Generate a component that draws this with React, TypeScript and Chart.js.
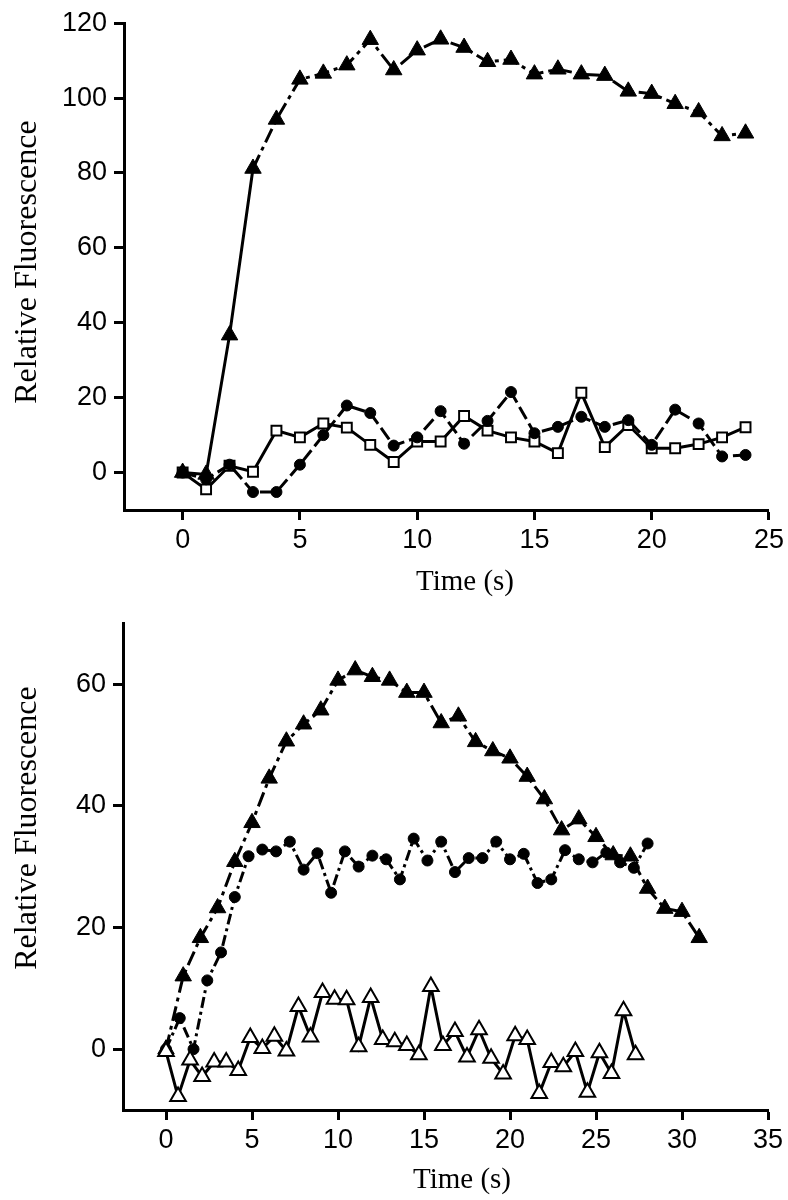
import React, { useEffect, useRef } from 'react';
import { Chart, registerables } from 'chart.js';

Chart.register(...registerables);

// ---------- Top panel data ----------
const topTime = [0, 1, 2, 3, 4, 5, 6, 7, 8, 9, 10, 11, 12, 13, 14, 15, 16, 17, 18, 19, 20, 21, 22, 23, 24];
const topFilledTriangle = [0, -0.5, 36.7, 81.2, 94.3, 105.0, 106.6, 108.8, 115.6, 107.5, 112.8, 115.7, 113.5, 109.7, 110.3, 106.4, 107.7, 106.4, 106.0, 101.8, 101.2, 98.5, 96.3, 89.9, 90.6];
const topCircle = [0, -1.8, 2.1, -5.2, -5.2, 2.1, 10.0, 17.9, 15.9, 7.2, 9.4, 16.4, 7.7, 13.8, 21.5, 10.5, 12.2, 14.9, 12.2, 14.0, 7.4, 16.8, 13.1, 4.3, 4.7];
const topSquare = [0, -4.5, 1.8, 0.2, 11.2, 9.4, 13.1, 12.0, 7.4, 2.8, 8.3, 8.3, 15.1, 11.2, 9.4, 8.3, 5.2, 21.3, 6.8, 12.7, 6.5, 6.5, 7.6, 9.4, 12.1];
const topXTicks = [0, 5, 10, 15, 20, 25];
const topYTicks = [0, 20, 40, 60, 80, 100, 120];

// ---------- Bottom panel data ----------
const bottomTriangleTime = [0, 1, 2, 3, 4, 5, 6, 7, 8, 9, 10, 11, 12, 13, 14, 15, 16, 17, 18, 19, 20, 21, 22, 23, 24, 25, 26, 27, 28, 29, 30, 31];
const bottomFilledTriangle = [0, 12.0, 18.3, 23.2, 30.8, 37.2, 44.5, 50.6, 53.4, 55.7, 60.6, 62.3, 61.2, 60.6, 58.6, 58.6, 53.6, 54.7, 50.5, 49.0, 47.8, 44.8, 41.1, 36.0, 37.8, 34.9, 31.9, 31.7, 26.4, 23.1, 22.6, 18.3];
const bottomCircleTime = [0, 0.8, 1.6, 2.4, 3.2, 4.0, 4.8, 5.6, 6.4, 7.2, 8.0, 8.8, 9.6, 10.4, 11.2, 12.0, 12.8, 13.6, 14.4, 15.2, 16.0, 16.8, 17.6, 18.4, 19.2, 20.0, 20.8, 21.6, 22.4, 23.2, 24.0, 24.8, 25.6, 26.4, 27.2, 28.0];
const bottomCircle = [0, 5.1, 0.0, 11.3, 15.9, 25.0, 31.7, 32.8, 32.5, 34.1, 29.5, 32.2, 25.7, 32.5, 30.0, 31.8, 31.2, 27.9, 34.6, 31.0, 34.1, 29.1, 31.4, 31.4, 34.1, 31.2, 32.1, 27.3, 27.9, 32.7, 31.2, 30.7, 32.3, 30.7, 29.8, 33.8];
const bottomOpenTime = [0, 0.7, 1.4, 2.1, 2.8, 3.5, 4.2, 4.9, 5.6, 6.3, 7.0, 7.7, 8.4, 9.1, 9.8, 10.5, 11.2, 11.9, 12.6, 13.3, 14.0, 14.7, 15.4, 16.1, 16.8, 17.5, 18.2, 18.9, 19.6, 20.3, 21.0, 21.7, 22.4, 23.1, 23.8, 24.5, 25.2, 25.9, 26.6, 27.3];
const bottomOpenTriangle = [-0.4, -7.8, -1.8, -4.5, -2.1, -2.1, -3.5, 1.9, 0.1, 2.1, -0.3, 7.0, 2.0, 9.3, 8.2, 8.1, 0.4, 8.5, 1.6, 1.2, 0.6, -0.9, 10.3, 0.6, 2.9, -1.3, 3.2, -1.5, -4.1, 2.2, 1.6, -7.3, -2.2, -2.9, -0.4, -7.1, -0.6, -4.0, 6.3, -0.9];
const bottomXTicks = [0, 5, 10, 15, 20, 25, 30, 35];
const bottomYTicks = [0, 20, 40, 60];

const yTitleText = 'Relative Fluorescence';
const xTitleText = 'Time (s)';

const TICK_FONT = '"Liberation Sans", Arial, Helvetica, sans-serif';
const TITLE_FONT = '"Liberation Serif", "Times New Roman", Times, serif';

const pts = (xs: number[], ys: number[]) => xs.map((x, i) => ({ x, y: ys[i] }));

const axisTitlePlugin = {
  id: 'axisTitles',
  afterDraw(chart: any, _args: any, opts: any) {
    const ctx = chart.ctx;
    const items = (opts && opts.items) || [];
    for (const t of items) {
      ctx.save();
      ctx.translate(t.x, t.y);
      ctx.rotate(t.rotation || 0);
      ctx.font = `${t.size}px ${TITLE_FONT}`;
      ctx.fillStyle = '#000';
      ctx.textAlign = 'center';
      ctx.textBaseline = 'middle';
      ctx.fillText(t.text, 0, 0);
      ctx.restore();
    }
  },
};

function axis(min: number, max: number, ticks: number[], isX: boolean, fitSize: number) {
  return {
    type: 'linear',
    min,
    max,
    afterBuildTicks: (s: any) => {
      s.ticks = ticks.map((v) => ({ value: v }));
    },
    afterFit: (s: any) => {
      if (isX) s.height = fitSize;
      else s.width = fitSize;
    },
    grid: {
      display: true,
      drawOnChartArea: false,
      drawTicks: true,
      tickLength: 10,
      tickWidth: 3,
      tickColor: '#000',
      color: '#000',
    },
    border: { display: true, color: '#000', width: 3 },
    ticks: {
      color: '#000',
      font: { family: TICK_FONT, size: 27 },
      padding: isX ? 4 : 7,
      maxRotation: 0,
      autoSkip: false,
    },
  };
}

function makeOptions(p: any) {
  return {
    responsive: false,
    animation: false,
    events: [],
    layout: { padding: { top: 17, right: p.padRight, bottom: 0, left: 0 } },
    plugins: {
      legend: { display: false },
      tooltip: { enabled: false },
      axisTitles: { items: p.titles },
    },
    scales: {
      x: axis(p.xMin, p.xMax, p.xTicks, true, 90),
      y: axis(p.yMin, p.yMax, p.yTicks, false, p.yWidth),
    },
  };
}

const lineBase = {
  showLine: true,
  borderColor: '#000',
  borderWidth: 3,
  tension: 0,
  pointBorderColor: '#000',
};

function topConfig(): any {
  return {
    type: 'scatter',
    data: {
      datasets: [
        {
          ...lineBase,
          data: pts(topTime, topFilledTriangle),
          pointStyle: 'triangle',
          pointRadius: 9.5,
          pointBackgroundColor: '#000',
          pointBorderWidth: 1,
          segment: {
            borderDash: (c: any) => (c.p0DataIndex < 3 ? [] : [15, 5, 4, 5]),
          },
        },
        {
          ...lineBase,
          data: pts(topTime, topCircle),
          pointStyle: 'circle',
          pointRadius: 5.5,
          pointBackgroundColor: '#000',
          pointBorderWidth: 1,
          borderDash: [14, 5],
        },
        {
          ...lineBase,
          data: pts(topTime, topSquare),
          pointStyle: 'rect',
          pointRadius: 7,
          pointBackgroundColor: '#fff',
          pointBorderWidth: 2,
        },
      ],
    },
    options: makeOptions({
      xMin: -2.5,
      xMax: 25,
      yMin: -10,
      yMax: 120,
      xTicks: topXTicks,
      yTicks: topYTicks,
      yWidth: 124,
      padRight: 19,
      titles: [
        { text: yTitleText, x: 28, y: 262, rotation: -Math.PI / 2, size: 32 },
        { text: xTitleText, x: 465, y: 582, rotation: 0, size: 29 },
      ],
    }),
    plugins: [axisTitlePlugin],
  };
}

function bottomConfig(): any {
  return {
    type: 'scatter',
    data: {
      datasets: [
        {
          ...lineBase,
          data: pts(bottomOpenTime, bottomOpenTriangle),
          pointStyle: 'triangle',
          pointRadius: 9,
          pointBackgroundColor: '#fff',
          pointBorderWidth: 2,
        },
        {
          ...lineBase,
          data: pts(bottomTriangleTime, bottomFilledTriangle),
          pointStyle: 'triangle',
          pointRadius: 9.5,
          pointBackgroundColor: '#000',
          pointBorderWidth: 1,
          borderDash: [15, 5, 4, 5],
        },
        {
          ...lineBase,
          data: pts(bottomCircleTime, bottomCircle),
          pointStyle: 'circle',
          pointRadius: 5.5,
          pointBackgroundColor: '#000',
          pointBorderWidth: 1,
          borderDash: [11, 4, 3, 4],
        },
      ],
    },
    options: makeOptions({
      xMin: -2.5,
      xMax: 35,
      yMin: -10,
      yMax: 70,
      xTicks: bottomXTicks,
      yTicks: bottomYTicks,
      yWidth: 123,
      padRight: 20,
      titles: [
        { text: yTitleText, x: 28, y: 228, rotation: -Math.PI / 2, size: 32 },
        { text: xTitleText, x: 462, y: 580, rotation: 0, size: 29 },
      ],
    }),
    plugins: [axisTitlePlugin],
  };
}

function Panel({ makeConfig, top }: { makeConfig: () => any; top: number }) {
  const ref = useRef<HTMLCanvasElement | null>(null);
  useEffect(() => {
    if (!ref.current) return;
    const chart = new Chart(ref.current, makeConfig());
    return () => chart.destroy();
  }, []);
  return (
    <canvas
      ref={ref}
      width={788}
      height={600}
      style={{ position: 'absolute', left: 0, top, width: 788, height: 600, display: 'block' }}
    />
  );
}

export default function App() {
  return (
    <div style={{ position: 'absolute', left: 0, top: 0, width: 788, height: 1200, background: '#fff' }}>
      <Panel makeConfig={topConfig} top={0} />
      <Panel makeConfig={bottomConfig} top={600} />
    </div>
  );
}
